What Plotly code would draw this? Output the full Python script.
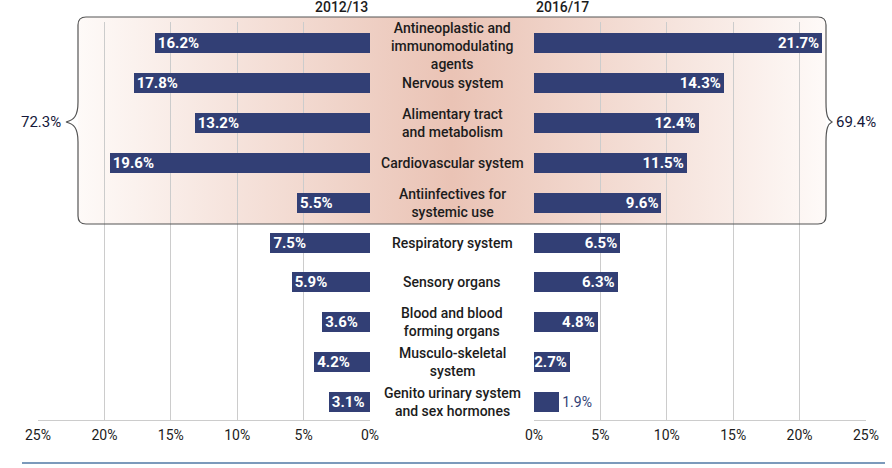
import numpy as np
import plotly.graph_objects as go

# ---------------- data ----------------
categories = [
    "Antineoplastic and<br>immunomodulating<br>agents",
    "Nervous system",
    "Alimentary tract<br>and metabolism",
    "Cardiovascular system",
    "Antiinfectives for<br>systemic use",
    "Respiratory system",
    "Sensory organs",
    "Blood and blood<br>forming organs",
    "Musculo-skeletal<br>system",
    "Genito urinary system<br>and sex hormones",
]
share_2012 = [16.2, 17.8, 13.2, 19.6, 5.5, 7.5, 5.9, 3.6, 4.2, 3.1]
share_2016 = [21.7, 14.3, 12.4, 11.5, 9.6, 6.5, 6.3, 4.8, 2.7, 1.9]
year_labels = ["2012/13", "2016/17"]
top5_totals = ["72.3%", "69.4%"]
tick_vals = [0, 5, 10, 15, 20, 25]
tick_text = ["0%", "5%", "10%", "15%", "20%", "25%"]

# ---------------- style ----------------
W, H = 892, 468
NAVY = "#323f75"
TXT = "#1c1c1c"
GRID = "#cccccc"
FONT = "Roboto, Lato, sans-serif"

ypos = list(range(len(categories)))

fig = go.Figure()

# background subplot in pixel coordinates (x: 0..W, y: 0..H downwards)
def rounded_rect(x0, y0, x1, y1, r, n=8):
    pts = []
    corners = [(x1 - r, y0 + r, -90, 0), (x1 - r, y1 - r, 0, 90),
               (x0 + r, y1 - r, 90, 180), (x0 + r, y0 + r, 180, 270)]
    for cx, cy, a0, a1 in corners:
        for a in np.linspace(np.radians(a0), np.radians(a1), n):
            pts.append((cx + r * np.cos(a), cy + r * np.sin(a)))
    pts.append(pts[0])
    return [p[0] for p in pts], [p[1] for p in pts]

bx, by = rounded_rect(78, 17, 826, 224, 8)
fig.add_trace(go.Scatter(
    x=bx, y=by, xaxis="x", yaxis="y", mode="lines", fill="toself",
    line=dict(width=0, color="rgba(0,0,0,0)"),
    fillgradient=dict(type="horizontal",
                      colorscale=[[0, "#fefaf8"], [0.5, "#eac3b5"], [1, "#fefaf8"]]),
    hoverinfo="skip", showlegend=False,
))

# bars
def text_pos(vals):
    return ["outside" if v < 2.5 else "inside" for v in vals]

for vals, xa in ((share_2012, "x2"), (share_2016, "x3")):
    fig.add_trace(go.Bar(
        y=ypos, x=vals, orientation="h", xaxis=xa, yaxis="y2",
        marker=dict(color=NAVY, line=dict(width=0)), width=0.5,
        texttemplate="%{x:.1f}%", textposition=text_pos(vals),
        insidetextanchor="end", constraintext="none",
        insidetextfont=dict(color="white", size=15, family=FONT, weight="bold"),
        outsidetextfont=dict(color=NAVY, size=14, family=FONT),
        showlegend=False, hoverinfo="skip", cliponaxis=False,
    ))

y_dom = [1 - 420 / H, 1 - 22 / H]
common_x = dict(
    tickvals=tick_vals, ticktext=tick_text, showgrid=True, gridcolor=GRID,
    gridwidth=1, zeroline=False, showline=True, linecolor=GRID, linewidth=1,
    ticks="outside", ticklen=2, tickcolor="rgba(0,0,0,0)",
    tickfont=dict(family=FONT, size=14, color=TXT), anchor="y2", fixedrange=True,
    automargin=False,
)

fig.update_layout(
    width=W, height=H, margin=dict(l=0, r=0, t=0, b=0, pad=0, autoexpand=False),
    paper_bgcolor="white", plot_bgcolor="rgba(0,0,0,0)",
    font=dict(family=FONT, color=TXT),
    xaxis=dict(domain=[0, 1], range=[0, W], visible=False, fixedrange=True,
               automargin=False),
    yaxis=dict(domain=[0, 1], range=[H, 0], visible=False, fixedrange=True,
               automargin=False),
    xaxis2=dict(domain=[38 / W, 370 / W], range=[25, 0], **common_x),
    xaxis3=dict(domain=[534 / W, 866 / W], range=[0, 25], **common_x),
    yaxis2=dict(domain=y_dom, range=[9.45, -0.53], visible=False, anchor="x2",
                fixedrange=True, automargin=False),
    bargap=0,
)

# box outline with braces (pixel coords)
path = ("M 86,17 L 818,17 Q 826,17 826,25 L 826,102 "
        "C 826,116 828,120 832,122 C 828,124 826,128 826,142 "
        "L 826,216 Q 826,224 818,224 L 86,224 Q 78,224 78,216 L 78,142 "
        "C 78,128 74,124 66,122 C 74,120 78,116 78,102 "
        "L 78,25 Q 78,17 86,17 Z")
fig.add_shape(type="path", path=path, xref="x", yref="y",
              line=dict(color="#555555", width=1.2), layer="above")

# bottom rule
fig.add_shape(type="line", x0=22, x1=885, y0=463, y1=463, xref="x", yref="y",
              line=dict(color="#5079a5", width=1.5), layer="above")

# category labels
for i, cat in enumerate(categories):
    n = cat.count("<br>") + 1
    fig.add_annotation(x=452, y=i, xref="x", yref="y2", text=cat, showarrow=False,
                       xanchor="center", yanchor="middle", align="center",
                       yshift=-3 if n == 3 else 0,
                       font=dict(family=FONT, size=14, color=TXT, weight=500))

# year headers
for txt, xx, anc in ((year_labels[0], 370, "right"), (year_labels[1], 534, "left")):
    fig.add_annotation(x=xx, y=7, xref="x", yref="y", text=txt, showarrow=False,
                       xanchor=anc, yanchor="middle",
                       font=dict(family=FONT, size=14, color=TXT, weight=500))

# brace totals
fig.add_annotation(x=63, y=122, xref="x", yref="y", text=top5_totals[0], showarrow=False,
                   xanchor="right", yanchor="middle",
                   font=dict(family=FONT, size=15, color="#15183a"))
fig.add_annotation(x=834, y=122, xref="x", yref="y", text=top5_totals[1], showarrow=False,
                   xanchor="left", yanchor="middle",
                   font=dict(family=FONT, size=15, color="#15183a"))

fig.write_html("out.html",
               config={"displayModeBar": False, "staticPlot": True},
               post_script="document.body.style.margin='0';"
                           "document.body.style.overflow='hidden';")
